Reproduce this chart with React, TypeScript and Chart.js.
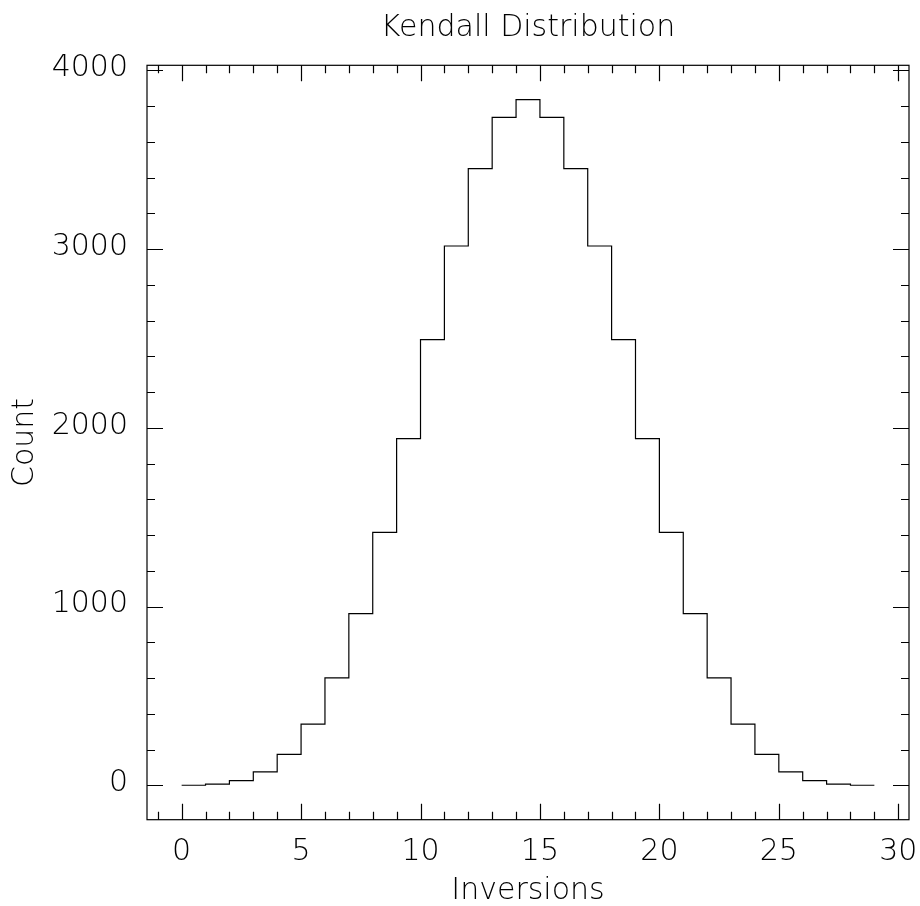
import React, { useEffect, useRef } from "react";
import { Chart, registerables } from "chart.js";

Chart.register(...registerables);

// Number of inversions (bin start) and permutation counts (n = 8)
const inversions = [0, 1, 2, 3, 4, 5, 6, 7, 8, 9, 10, 11, 12, 13, 14, 15, 16, 17, 18, 19, 20, 21, 22, 23, 24, 25, 26, 27, 28];
const counts = [1, 7, 27, 76, 174, 343, 602, 961, 1415, 1940, 2493, 3017, 3450, 3736, 3836, 3736, 3450, 3017, 2493, 1940, 1415, 961, 602, 343, 174, 76, 27, 7, 1];
const xTickValues = [0, 5, 10, 15, 20, 25, 30];
const yTickValues = [0, 1000, 2000, 3000, 4000];
const X_MINOR = 1;
const Y_MINOR = 200;

const FONT = "'DejaVu Sans', 'Liberation Sans', sans-serif";
const FS = 30;

const framePlugin = {
  id: "pgframe",
  afterDraw(chart: any) {
    const { ctx, chartArea, scales } = chart;
    const { left, right, top, bottom } = chartArea;
    const x = scales.x;
    const y = scales.y;
    ctx.save();
    ctx.strokeStyle = "#000";
    ctx.lineWidth = 1.2;
    ctx.strokeRect(left, top, right - left, bottom - top);
    ctx.beginPath();
    for (let v = Math.ceil(x.min); v <= Math.floor(x.max); v += X_MINOR) {
      const px = Math.round(x.getPixelForValue(v)) + 0.5;
      const len = xTickValues.includes(v) ? 16 : 8;
      ctx.moveTo(px, bottom);
      ctx.lineTo(px, bottom - len);
      ctx.moveTo(px, top);
      ctx.lineTo(px, top + len);
    }
    for (let v = Math.ceil(y.min / Y_MINOR) * Y_MINOR; v <= y.max; v += Y_MINOR) {
      const py = Math.round(y.getPixelForValue(v)) + 0.5;
      const len = yTickValues.includes(v) ? 16 : 8;
      ctx.moveTo(left, py);
      ctx.lineTo(left + len, py);
      ctx.moveTo(right, py);
      ctx.lineTo(right - len, py);
    }
    ctx.stroke();
    ctx.restore();
  },
};

export default function App() {
  const ref = useRef<HTMLCanvasElement | null>(null);

  useEffect(() => {
    if (!ref.current) return;
    const pts = inversions.map((v, i) => ({ x: v, y: counts[i] }));
    pts.push({ x: inversions[inversions.length - 1] + 1, y: counts[counts.length - 1] });

    const xStart = inversions[0];
    const xEnd = inversions[inversions.length - 1] + 1;
    const xSpan = xEnd - xStart;
    const yMaxData = Math.max(...counts);

    const chart = new Chart(ref.current, {
      type: "line",
      data: {
        datasets: [
          {
            data: pts,
            stepped: "before",
            borderColor: "#000",
            borderWidth: 1.2,
            pointRadius: 0,
            fill: false,
          },
        ],
      },
      plugins: [framePlugin],
      options: {
        animation: false,
        responsive: false,
        devicePixelRatio: 1,
        layout: { padding: { left: 0, right: 11, top: 0, bottom: 0 } },
        plugins: {
          legend: { display: false },
          tooltip: { enabled: false },
          title: {
            display: true,
            text: "Kendall Distribution",
            fullSize: false,
            color: "#000",
            font: { family: FONT, size: FS, weight: "200", lineHeight: 1.2 },
            padding: { top: 9.8, bottom: 19.5 },
          },
        },
        scales: {
          x: {
            type: "linear",
            min: xStart - 0.05 * xSpan,
            max: xEnd + 0.05 * xSpan,
            afterBuildTicks: (s: any) => {
              s.ticks = xTickValues.map((v) => ({ value: v }));
            },
            afterFit: (s: any) => {
              s.height = 86.3;
              s.paddingLeft = 0;
              s.paddingRight = 0;
            },
            grid: { display: false, drawTicks: false },
            border: { display: false },
            ticks: {
              color: "#000",
              padding: 14.4,
              maxRotation: 0,
              autoSkip: false,
              font: { family: FONT, size: FS, weight: "200", lineHeight: 1.2 },
              callback: (v: any) => String(v),
            },
            title: {
              display: true,
              text: "Inversions",
              color: "#000",
              font: { family: FONT, size: FS, weight: "200", lineHeight: 1 },
              padding: { top: 0, bottom: 0 },
            },
          },
          y: {
            type: "linear",
            min: -0.05 * yMaxData,
            max: yMaxData * 1.05,
            afterBuildTicks: (s: any) => {
              s.ticks = yTickValues.map((v) => ({ value: v }));
            },
            afterFit: (s: any) => {
              s.width = 147;
              s.paddingTop = 0;
              s.paddingBottom = 0;
            },
            grid: { display: false, drawTicks: false },
            border: { display: false },
            ticks: {
              color: "#000",
              padding: 19,
              labelOffset: -2,
              autoSkip: false,
              font: { family: FONT, size: FS, weight: "200", lineHeight: 1.2 },
              callback: (v: any) => String(v),
            },
            title: {
              display: true,
              text: "Count",
              color: "#000",
              font: { family: FONT, size: FS, weight: "200", lineHeight: 1.2 },
              padding: { top: 6.8, bottom: 0 },
            },
          },
        },
      },
    } as any);

    return () => chart.destroy();
  }, []);

  return (
    <div style={{ position: "absolute", left: 0, top: 0, width: 920, height: 906 }}>
      <canvas ref={ref} width={920} height={906} />
    </div>
  );
}
